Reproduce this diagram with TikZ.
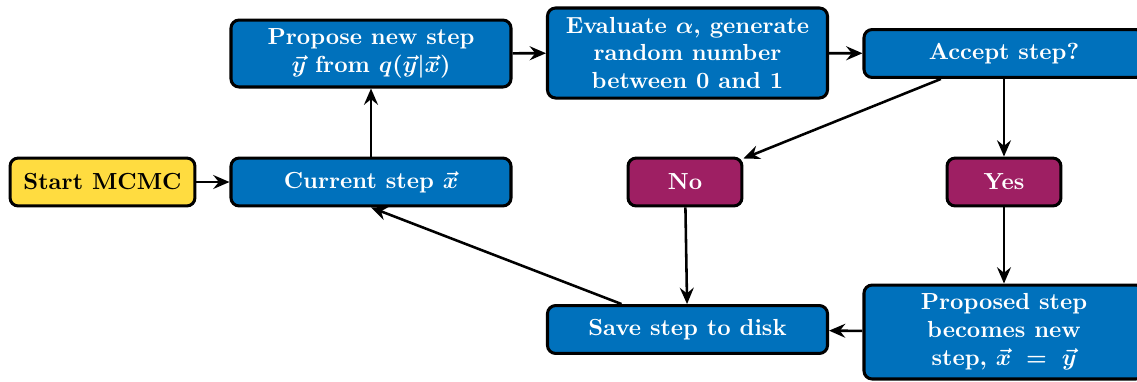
\documentclass[tikz,border=0pt]{standalone}
\usetikzlibrary{arrows.meta}
\definecolor{boxblue}{HTML}{0071BC}
\definecolor{boxpurple}{HTML}{9E1F63}
\definecolor{boxyellow}{HTML}{FFDC40}
\begin{document}
\begin{tikzpicture}[x=0.43pt,y=-0.43pt, font=\bfseries\boldmath,
  base/.style={draw=black, line width=1.3pt, rounded corners=3.5pt, align=center, inner sep=2pt, minimum height=20.6pt},
  bluebox/.style={base, fill=boxblue, text=white, minimum width=120.4pt},
  purplebox/.style={base, fill=boxpurple, text=white, minimum width=49pt},
  yellowbox/.style={base, fill=boxyellow, text=black, minimum width=79.5pt},
  conn/.style={-{Stealth[length=7pt,width=6pt,inset=2.4pt]}, line width=1.1pt}]
\useasboundingbox (0,0) rectangle (1137,381);
\node[yellowbox] (start) at (102.5,182) {Start MCMC};
\node[bluebox] (current) at (371,182) {Current step $\vec{x}$};
\node[bluebox, minimum height=28.8pt] (propose) at (371,53.5) {Propose new step\\ $\vec{y}$ from $q(\vec{y}|\vec{x})$};
\node[bluebox, minimum height=38.7pt] (evaluate) at (687.5,53) {Evaluate $\alpha$, generate\\ random number\\ between 0 and 1};
\node[bluebox] (accept) at (1004,53.5) {Accept step?};
\node[purplebox] (no) at (685,182) {No};
\node[purplebox] (yes) at (1004,182) {Yes};
\node[bluebox] (save) at (687.5,329.5) {Save step to disk};
\node[bluebox, minimum height=40.4pt] (proposed) at (1004,332) {Proposed step\\ becomes new\\ step, $\vec{x}\;=\;\vec{y}$};
\draw[conn] (start) -- (current);
\draw[conn] (current) -- (propose);
\draw[conn] (propose) -- (evaluate);
\draw[conn] (evaluate) -- (accept);
\draw[conn] (accept) -- (no);
\draw[conn] (accept) -- (yes);
\draw[conn] (no) -- (save);
\draw[conn] (yes) -- (proposed);
\draw[conn] (proposed) -- (save);
\draw[conn] (save) -- (current.south);
\end{tikzpicture}
\end{document}
